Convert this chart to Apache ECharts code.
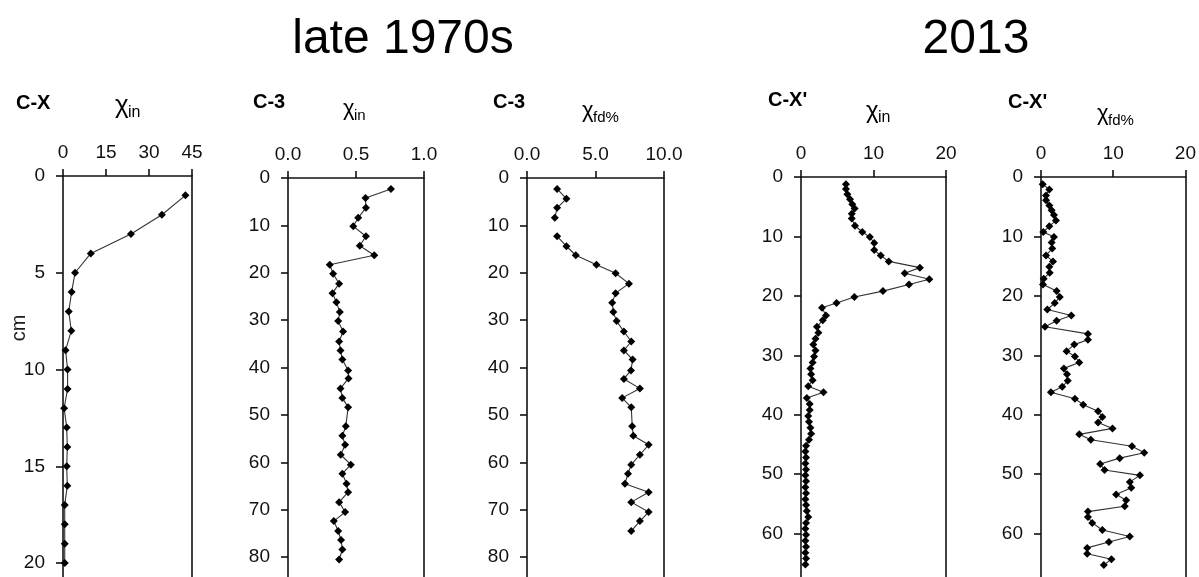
<!DOCTYPE html>
<html>
<head>
<meta charset="utf-8">
<script src="https://cdn.jsdelivr.net/npm/echarts@6/dist/echarts.min.js"></script>
<style>
html,body{margin:0;padding:0;background:#fff;}
#chart{width:1199px;height:577px;}
</style>
</head>
<body>
<div id="chart"></div>
<script>
// ---- Data ----
// Panel 1: C-X, chi_in (late 1970s)
const depthCX = [1,2,3,4,5,6,7,8,9,10,11,12,13,14,15,16,17,18,19,20];
const chiInCX = [42.7,34.5,23.7,9.7,4.2,3.0,2.0,2.9,0.9,1.6,1.6,0.4,1.3,1.5,1.3,1.5,0.6,0.6,0.6,0.6];

// Panel 2: C-3, chi_in (late 1970s)
const depthC3 = [2.3,4.2,6.3,8.4,10.2,12.3,14.3,16.3,18.3,20.2,22.3,24.3,26.2,28.3,30.2,32.4,34.5,36.4,38.3,40.6,42.3,44.4,46.4,48.4,52.4,54.4,56.3,58.4,60.5,62.4,64.5,66.3,68.4,70.5,72.4,74.5,76.4,78.4,80.5];
const chiInC3 = [0.757,0.57,0.573,0.516,0.48,0.573,0.528,0.634,0.307,0.332,0.376,0.327,0.356,0.381,0.369,0.405,0.376,0.386,0.40,0.442,0.445,0.386,0.40,0.442,0.425,0.40,0.42,0.388,0.462,0.40,0.43,0.442,0.376,0.42,0.337,0.369,0.39,0.40,0.376];

// Panel 3: C-3, chi_fd% (late 1970s)
const depthC3fd = [2.3,4.4,6.3,8.4,10.3,12.3,14.4,16.3,18.3,20.1,22.3,24.3,26.3,28.3,30.2,32.4,34.5,36.4,38.3,40.6,42.4,44.4,46.4,48.4,52.4,54.4,56.3,58.4,60.5,62.4,64.5,66.3,68.4,70.5,72.4,74.5];
const chiFdC3 = [2.2,2.88,2.2,2.03,null,2.2,2.88,3.56,5.07,6.47,7.44,6.47,6.22,6.3,6.54,7.07,7.61,7.07,7.71,7.59,7.07,8.24,6.95,7.61,7.68,7.76,8.88,8.24,7.61,7.37,7.15,8.88,7.61,8.88,8.24,7.61];

// Panel 4: C-X', chi_in (2013)
const depthCXp = [1.2,2.0,2.9,3.75,4.6,5.3,6.2,7.0,8.2,9.25,10.1,11.1,12.3,13.2,14.2,15.25,16.2,17.2,18.1,19.2,20.2,21.2,22.0,23.3,24.1,25.2,26.2,27.2,28.2,29.2,30.2,31.2,32.2,33.2,34.2,35.2,36.2,37.2,38.2,39.2,40.2,41.2,42.2,43.2,44.2,45.2,46.2,47.2,48.2,49.2,50.2,51.2,52.2,53.2,54.2,55.2,56.2,57.2,58.2,59.2,60.2,61.2,62.2,63.2,64.2,65.2];
const chiInCXp = [6.2,6.2,6.4,6.76,7.08,7.4,7.0,7.0,7.45,8.46,9.5,10.1,10.1,11.0,12.1,16.4,14.3,17.7,14.9,11.3,7.36,4.9,2.9,3.45,3.0,2.2,2.4,2.0,1.7,2.0,1.8,1.6,1.3,1.4,1.6,1.0,3.1,0.8,1.2,1.2,1.0,1.1,1.3,1.4,1.1,0.7,0.6,0.7,0.6,0.7,0.6,0.7,0.6,0.7,0.6,0.7,0.8,1.0,0.7,0.6,0.7,0.6,0.7,0.6,0.7,0.6];

// Panel 5: C-X', chi_fd% (2013)
const depthCXpfd = [1.2,2.1,3.1,3.9,4.8,5.6,6.4,7.3,8.3,9.25,10.1,11.0,12.05,13.2,14.2,15.1,16.1,17.1,18.1,19.2,20.2,21.2,22.3,23.3,24.2,25.2,26.4,27.4,28.2,29.3,30.2,31.2,32.2,33.2,34.3,35.3,36.2,37.3,38.3,39.4,40.4,41.3,42.3,43.3,44.2,45.3,46.4,47.3,48.3,49.3,50.2,51.3,52.3,53.4,54.4,55.4,56.3,57.2,58.2,59.4,60.5,61.4,62.4,63.4,64.3,65.3];
const chiFdCXp = [0.23,1.15,0.69,0.7,1.15,1.47,1.79,2.07,1.15,0.32,1.79,1.47,1.56,0.69,1.66,1.15,1.2,0.37,0.28,2.16,2.6,1.9,0.87,4.2,2.16,0.55,6.5,6.5,4.6,3.54,4.7,5.3,3.17,3.6,3.7,2.94,1.38,4.7,5.84,7.9,8.5,7.9,9.9,5.3,6.9,12.6,14.3,10.9,8.2,8.8,13.7,12.3,12.5,10.4,11.8,11.6,6.5,6.5,7.1,8.5,12.3,9.4,6.4,6.4,9.75,8.7];

const groupTitles = ['late 1970s', '2013'];
const coreNames = ['C-X', 'C-3', 'C-3', "C-X'", "C-X'"];
const varSubs = ['in', 'in', 'fd%', 'in', 'fd%'];
const depthUnit = 'cm';

// ---- Layout ----
const panels = [
  {depth: depthCX, val: chiInCX, left: 63, top: 176, width: 129, xmax: 45, xint: 15, ymax: 20.72, yint: 5, dec: 0},
  {depth: depthC3, val: chiInC3, left: 288, top: 178, width: 136, xmax: 1, xint: 0.5, ymax: 84.2, yint: 10, dec: 1},
  {depth: depthC3fd, val: chiFdC3, left: 527, top: 178, width: 137, xmax: 10, xint: 5, ymax: 84.2, yint: 10, dec: 1},
  {depth: depthCXp, val: chiInCXp, left: 801, top: 177, width: 145, xmax: 20, xint: 10, ymax: 67.3, yint: 10, dec: 0},
  {depth: depthCXpfd, val: chiFdCXp, left: 1041, top: 177, width: 145, xmax: 20, xint: 10, ymax: 67.3, yint: 10, dec: 0}
];

const FONT = 'Liberation Sans, Arial, sans-serif';
const lineCol = '#111';
const grids = [], xAxes = [], yAxes = [], series = [];

panels.forEach((p, i) => {
  grids.push({left: p.left, top: p.top, width: p.width, bottom: 0});
  xAxes.push({
    type: 'value', gridIndex: i, position: 'top', min: 0, max: p.xmax, interval: p.xint,
    axisLine: {show: true, onZero: false, lineStyle: {color: lineCol, width: 1.6}},
    axisTick: {show: true, inside: false, length: 7, lineStyle: {color: lineCol, width: 1.6}},
    axisLabel: {show: true, margin: 14, fontSize: 19, color: '#111', fontFamily: FONT,
      formatter: v => Number(v).toFixed(p.dec)},
    splitLine: {show: false}
  });
  yAxes.push({
    type: 'value', gridIndex: i, position: 'left', inverse: true, min: 0, max: p.ymax, interval: p.yint,
    axisLine: {show: true, onZero: false, lineStyle: {color: lineCol, width: 1.6}},
    axisTick: {show: true, inside: false, length: 7, lineStyle: {color: lineCol, width: 1.6}},
    axisLabel: {show: true, margin: 18, fontSize: 19, color: '#111', fontFamily: FONT, showMaxLabel: false,
      formatter: v => (Math.abs(v / p.yint - Math.round(v / p.yint)) < 1e-6 ? String(Math.round(v)) : '')},
    splitLine: {show: false}
  });
  yAxes.push({
    type: 'value', gridIndex: i, position: 'right', inverse: true, min: 0, max: p.ymax,
    axisLine: {show: true, onZero: false, lineStyle: {color: lineCol, width: 1.6}},
    axisTick: {show: false}, axisLabel: {show: false}, splitLine: {show: false}
  });
  const data = p.depth.map((d, k) => (p.val[k] === null ? ['-', '-'] : [p.val[k], d]));
  series.push({
    type: 'line', xAxisIndex: i, yAxisIndex: 2 * i, data: data,
    symbol: 'diamond', symbolSize: 8, showAllSymbol: true, connectNulls: false,
    itemStyle: {color: '#000'}, lineStyle: {color: '#333', width: 1.1},
    silent: true
  });
});

// ---- Text (titles, core names, variable labels) ----
const graphic = [];
function txt(x, y, text, size, opts) {
  graphic.push(Object.assign({type: 'text', x: x, y: y, silent: true,
    style: Object.assign({text: text, fontSize: size, fontFamily: FONT, fill: '#000', align: 'left', verticalAlign: 'middle'}, opts || {})}));
}
txt(403, 40, groupTitles[0], 48, {align: 'center'});
txt(976, 40, groupTitles[1], 48, {align: 'center'});

const coreLbl = [[16, 103], [253, 102], [493, 102], [768, 100], [1008, 102]];
const chiPos = [[115, 106, 26, 16], [343, 109, 22, 15], [582, 111, 22, 15], [866, 111, 24, 16], [1097, 114, 22, 15]];
coreNames.forEach((n, i) => {
  txt(coreLbl[i][0], coreLbl[i][1], n, 20, {fontWeight: 'bold'});
  const c = chiPos[i];
  txt(c[0], c[1], 'χ', c[2]);
  txt(c[0] + c[2] * 0.5, c[1] + 7, varSubs[i], c[3]);
});
graphic.push({type: 'text', x: 19, y: 328, rotation: Math.PI / 2, silent: true,
  style: {text: depthUnit, fontSize: 20, fontFamily: FONT, fill: '#1a1a1a', align: 'center', verticalAlign: 'middle'}});

const chart = echarts.init(document.getElementById('chart'), null, {renderer: 'canvas'});
chart.setOption({
  animation: false,
  backgroundColor: '#fff',
  grid: grids, xAxis: xAxes, yAxis: yAxes, series: series, graphic: graphic
});
</script>
</body>
</html>
